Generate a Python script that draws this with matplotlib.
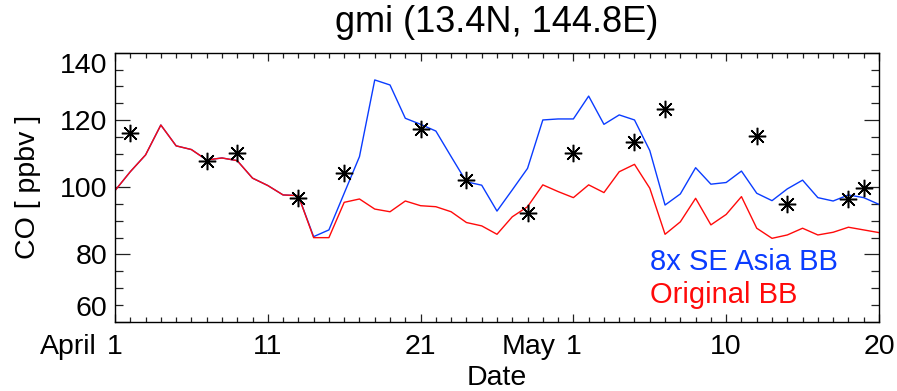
import numpy as np
import matplotlib
matplotlib.use("Agg")
import matplotlib.pyplot as plt

plt.rcParams['font.family'] = ['Liberation Sans', 'DejaVu Sans']

# Daily model CO at the site, days counted from April 1
days = np.arange(51)
co_original = [99.0, 104.6, 109.6, 118.5, 112.3, 111.2, 108.1, 108.7, 107.9, 102.7,
               100.5, 97.7, 97.5, 85.0, 85.0, 95.5, 96.5, 93.5, 92.7, 95.9,
               94.5, 94.2, 92.7, 89.5, 88.5, 86.0, 91.2, 94.2, 100.7, 98.7,
               96.9, 100.7, 98.4, 104.6, 106.8, 99.7, 86.0, 89.7, 96.7, 88.8,
               91.9, 97.2, 87.8, 84.8, 85.8, 87.8, 85.8, 86.6, 88.1, 87.3,
               86.5]
co_8x_seasia = [99.0, 104.6, 109.6, 118.5, 112.3, 111.2, 108.1, 108.7, 107.9, 102.7,
                100.5, 97.7, 97.5, 85.3, 87.3, 98.2, 109.1, 131.9, 130.4, 120.5,
                118.7, 116.7, 109.1, 101.6, 100.6, 92.9, 99.2, 105.6, 120.0, 120.3,
                120.3, 127.1, 118.7, 121.5, 120.0, 110.9, 94.7, 98.0, 105.8, 100.9,
                101.4, 104.8, 98.2, 96.0, 99.5, 102.1, 96.9, 95.9, 97.7, 96.9,
                94.9]

# Observations
obs_days = [1, 6, 8, 12, 15, 20, 23, 27, 30, 34, 36, 42, 44, 48, 49]
obs_co = [116.0, 107.9, 110.1, 96.7, 104.3, 117.3, 102.1, 92.2, 110.1, 113.5,
          123.2, 115.3, 95.0, 96.4, 99.9]

xtick_pos = [0, 10, 20, 30, 40, 50]
xtick_labels = ['1', '11', '21', '1', '10', '20']
month_labels = [(0, 'April'), (30, 'May')]
ytick_pos = [60, 80, 100, 120, 140]

title = 'gmi (13.4N, 144.8E)'
blue = '#0a3cff'
red = '#ff0a0a'

fig = plt.figure(figsize=(8.97, 3.91), dpi=100)
ax = fig.add_axes([0.1282, 0.1772, 0.9799 - 0.1282, 0.8652 - 0.1772])

ax.plot(days, co_8x_seasia, color=blue, lw=1.0)
ax.plot(days, co_original, color=red, lw=1.0)
ax.plot(obs_days, obs_co, linestyle='none', marker=(8, 2, 0), ms=12.5,
        mec='black', mew=1.1, color='black')

ax.set_xlim(0, 50)
ax.set_ylim(60, 140)
ax.set_xticks(xtick_pos)
ax.set_xticklabels(xtick_labels)
ax.set_xticks(np.arange(0, 51, 1), minor=True)
ax.set_yticks(ytick_pos)
ax.set_yticks(np.arange(60, 141, 5), minor=True)

for s in ax.spines.values():
    s.set_linewidth(1.0)

ax.tick_params(axis='both', which='both', direction='in', top=True, right=True,
               width=0.9, color='#222222', labelsize=20.5)
ax.tick_params(axis='x', which='major', length=6, pad=9)
ax.tick_params(axis='x', which='minor', length=3.6)
ax.tick_params(axis='y', which='major', length=11, pad=5.5)
ax.tick_params(axis='y', which='minor', length=5.8)

yticks = ax.yaxis.get_major_ticks()
yticks[0].label1.set_va('bottom')
yticks[-1].label1.set_va('top')

for d, name in month_labels:
    ax.annotate(name, xy=(d, 0), xycoords=('data', 'axes fraction'),
                xytext=(-13, -9), textcoords='offset points',
                ha='right', va='top', fontsize=20.5)

ax.set_xlabel('Date', fontsize=20.5)
ax.xaxis.set_label_coords(0.5, -0.208)
ax.xaxis.label.set_va('center')
ax.set_ylabel('CO [ ppbv ]', fontsize=20.5)
ax.yaxis.set_label_coords(-0.114, 0.5)
ax.yaxis.label.set_va('center')

ax.set_title(title, fontsize=26, y=1.114, va='center', pad=0)

ax.text(0.700, 0.222, '8x SE Asia BB', color=blue, fontsize=21,
        transform=ax.transAxes, ha='left', va='center')
ax.text(0.700, 0.099, 'Original BB', color=red, fontsize=21,
        transform=ax.transAxes, ha='left', va='center')

fig.savefig('out.png', dpi=100)
